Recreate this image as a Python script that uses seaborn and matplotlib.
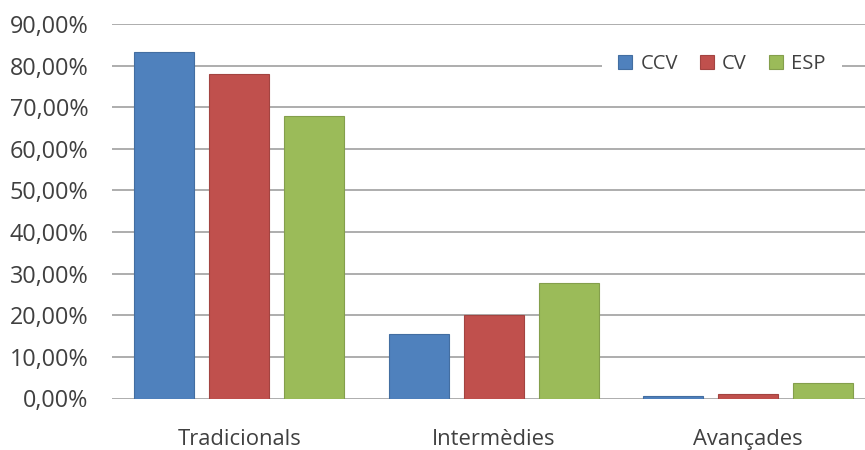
import numpy as np
import pandas as pd
import matplotlib
matplotlib.use("Agg")
import matplotlib.pyplot as plt
import matplotlib.colors as mcolors
import seaborn as sns
from matplotlib.ticker import FuncFormatter, MultipleLocator

# Percentatge d'ús per tipus de tecnologia
categories = ["Tradicionals", "Intermèdies", "Avançades"]
series = ["CCV", "CV", "ESP"]
ccv = [0.832, 0.155, 0.006]
cv = [0.781, 0.201, 0.011]
esp = [0.679, 0.277, 0.037]
colors = ["#4F81BD", "#C0504D", "#9BBB59"]

df = pd.DataFrame({
    "categoria": categories * 3,
    "serie": [s for s in series for _ in categories],
    "valor": ccv + cv + esp,
})

sns.set_theme(style="white")
plt.rcParams["font.family"] = ["Open Sans", "DejaVu Sans"]

W, H = 865, 450
fig = plt.figure(figsize=(W / 100, H / 100), dpi=100)
ax = fig.add_axes([112 / W, 51.5 / H, (W - 112) / W, 374.5 / H])

sns.barplot(data=df, x="categoria", y="valor", hue="serie",
            order=categories, hue_order=series, palette=colors,
            width=0.884, gap=0.2, saturation=1, ax=ax, errorbar=None)

# Slightly darker outline around each bar
for p in ax.patches:
    fc = np.array(mcolors.to_rgb(p.get_facecolor()))
    p.set_edgecolor(tuple(fc * 0.85))
    p.set_linewidth(0.8)

ax.set_ylim(0, 0.9)
ax.set_xlim(-0.5, 2.459)
ax.yaxis.set_major_locator(MultipleLocator(0.1))
ax.yaxis.set_major_formatter(
    FuncFormatter(lambda v, _: f"{v * 100:.2f}".replace(".", ",") + "%"))

ax.set_axisbelow(True)
ax.yaxis.grid(True, color="#a0a0a0", linewidth=1.2)
ax.xaxis.grid(False)
for s in ax.spines.values():
    s.set_visible(False)

ax.set_xlabel("")
ax.set_ylabel("")
txt = "#404040"
ax.tick_params(axis="y", length=0, pad=17, labelsize=16.8, labelcolor=txt)
ax.tick_params(axis="x", length=0, pad=22, labelsize=15.8, labelcolor=txt)

handles, labels = ax.get_legend_handles_labels()
ax.legend(handles, labels, ncol=3, loc="center",
          bbox_to_anchor=(722 / W, 1 - 64 / H), bbox_transform=fig.transFigure,
          frameon=True, facecolor="white", edgecolor="none", fancybox=False,
          framealpha=1, handlelength=0.7, handleheight=0.7,
          handletextpad=0.4, columnspacing=1.1, borderpad=0.8,
          fontsize=14.5, labelcolor=txt)

fig.savefig("out.png", dpi=100, facecolor="white")
